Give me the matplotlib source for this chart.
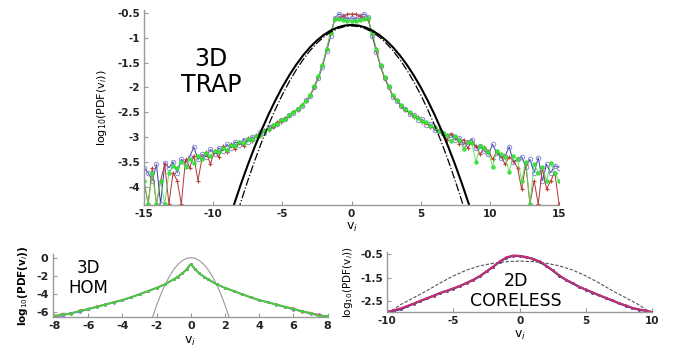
import numpy as np
import matplotlib
matplotlib.use("Agg")
import matplotlib.pyplot as plt

# ---- top panel: 3D TRAP (x grid -15..15, step 0.3) ----
trap_x = np.linspace(-15, 15, 101)

trap_red = [
    -3.88, -4.35, -3.62, -4.35, -3.88, -3.55, -4.35, -3.72, -3.88, -4.35,
    -3.45, -3.62, -3.38, -3.88, -3.42, -3.30, -3.55, -3.28, -3.40, -3.18,
    -3.30, -3.15, -3.25, -3.10, -3.18, -3.02, -3.08, -2.96, -2.97, -2.86,
    -2.85, -2.79, -2.70, -2.69, -2.61, -2.58, -2.49, -2.45, -2.35, -2.28,
    -2.16, -1.99, -1.79, -1.55, -1.23, -0.90, -0.63, -0.60, -0.57, -0.52,
    -0.52,
    -0.52, -0.56, -0.61, -0.64, -0.92, -1.27, -1.57, -1.82, -1.99, -2.18,
    -2.26, -2.37, -2.46, -2.51, -2.59, -2.60, -2.70, -2.71, -2.80, -2.82,
    -2.86, -2.95, -3.05, -2.93, -3.00, -3.14, -3.05, -3.22, -3.10, -3.18,
    -3.35, -3.20, -3.28, -3.45, -3.30, -3.38, -3.55, -3.40, -3.48, -3.62,
    -4.05, -3.55, -4.35, -3.88, -4.35, -3.62, -4.05, -3.88, -3.72, -4.35,
]
trap_blue = [
    -3.62, -3.72, -3.88, -3.55, -4.35, -3.52, -3.62, -3.50, -3.72, -3.45,
    -3.52, -3.40, -3.20, -3.45, -3.35, -3.40, -3.25, -3.35, -3.22, -3.28,
    -3.15, -3.22, -3.10, -3.16, -3.05, -3.10, -3.00, -3.01, -2.90, -2.91,
    -2.80, -2.78, -2.73, -2.66, -2.64, -2.55, -2.52, -2.43, -2.38, -2.26,
    -2.18, -2.00, -1.82, -1.58, -1.27, -0.96, -0.60, -0.52, -0.57, -0.62,
    -0.60,
    -0.62, -0.56, -0.52, -0.58, -0.97, -1.28, -1.57, -1.82, -1.99, -2.19,
    -2.27, -2.38, -2.43, -2.53, -2.55, -2.65, -2.64, -2.75, -2.74, -2.86,
    -2.88, -2.92, -2.98, -2.95, -3.06, -3.02, -3.15, -3.10, -3.05, -3.22,
    -3.18, -3.28, -3.35, -3.15, -3.32, -3.42, -3.38, -3.20, -3.50, -3.45,
    -3.40, -3.60, -3.45, -3.72, -3.42, -3.88, -3.55, -3.72, -3.58, -3.62,
]
trap_green = [
    -3.88, -4.35, -3.72, -4.35, -3.88, -4.35, -3.72, -3.58, -3.62, -3.50,
    -3.60, -3.45, -3.52, -3.38, -3.45, -3.32, -3.38, -3.28, -3.30, -3.22,
    -3.26, -3.16, -3.18, -3.10, -3.12, -3.04, -3.05, -2.97, -2.95, -2.87,
    -2.84, -2.76, -2.73, -2.66, -2.63, -2.56, -2.50, -2.44, -2.36, -2.27,
    -2.16, -1.97, -1.78, -1.54, -1.22, -0.90, -0.62, -0.62, -0.64, -0.66,
    -0.66,
    -0.66, -0.64, -0.62, -0.61, -0.90, -1.22, -1.55, -1.79, -1.97, -2.16,
    -2.26, -2.35, -2.44, -2.49, -2.57, -2.61, -2.68, -2.70, -2.78, -2.80,
    -2.88, -2.92, -2.96, -3.08, -2.98, -3.05, -3.25, -3.10, -3.12, -3.50,
    -3.18, -3.22, -3.30, -3.60, -3.28, -3.35, -3.40, -3.70, -3.38, -3.45,
    -3.88, -3.50, -4.35, -3.55, -3.72, -3.60, -3.88, -3.52, -3.72, -3.88,
]

# gaussian references (log scale -> parabolas), x = -9..9 step 0.5
gauss_x = np.linspace(-9, 9, 37)
gauss_solid_half = [-0.74, -0.753, -0.790, -0.853, -0.941, -1.054, -1.192,
                    -1.355, -1.543, -1.757, -1.995, -2.259, -2.547, -2.861,
                    -3.200, -3.564, -3.953, -4.367, -4.806]
gauss_dash_half = [-0.76, -0.774, -0.816, -0.885, -0.982, -1.107, -1.260,
                   -1.440, -1.648, -1.884, -2.148, -2.439, -2.758, -3.105,
                   -3.480, -3.882, -4.312, -4.770, -5.256]
gauss_solid = gauss_solid_half[::-1] + gauss_solid_half[1:]
gauss_dash = gauss_dash_half[::-1] + gauss_dash_half[1:]

# ---- bottom-left: 3D HOM ----
hom_x = [-8, -7.5, -7, -6.5, -6, -5.5, -5, -4.5, -4, -3.5, -3, -2.5, -2, -1.5,
         -1, -0.75, -0.5, -0.25, 0, 0.25, 0.5, 0.75, 1,
         1.5, 2, 2.5, 3, 3.5, 4, 4.5, 5, 5.5, 6, 6.5, 7, 7.5, 8]
hom_red = [-6.6, -6.2, -6.25, -5.85, -5.75, -5.4, -5.22, -4.92, -4.68, -4.4,
           -4.05, -3.7, -3.34, -2.95, -2.4, -2.1, -1.74, -1.3, -0.7, -1.3,
           -1.75, -2.1, -2.4, -2.95, -3.36, -3.7, -4.06, -4.4, -4.7, -4.96,
           -5.18, -5.5, -5.62, -6.05, -6.1, -6.4, -6.5]
hom_blue = [-6.5, -6.45, -6.1, -6.05, -5.65, -5.5, -5.18, -4.98, -4.72, -4.42,
            -4.06, -3.72, -3.36, -2.96, -2.41, -2.1, -1.76, -1.31, -0.71, -1.31,
            -1.76, -2.11, -2.41, -2.96, -3.37, -3.72, -4.08, -4.42, -4.74, -4.92,
            -5.25, -5.42, -5.78, -5.9, -6.25, -6.3, -6.6]
hom_green = [-6.45, -6.3, -6.2, -5.9, -5.7, -5.45, -5.2, -4.95, -4.7, -4.4,
             -4.05, -3.7, -3.35, -2.95, -2.4, -2.1, -1.75, -1.3, -0.7, -1.3,
             -1.75, -2.1, -2.4, -2.95, -3.35, -3.7, -4.05, -4.4, -4.7, -4.95,
             -5.2, -5.45, -5.7, -5.95, -6.15, -6.5, -6.45]
hom_gauss_x = [-2.25, -2, -1.75, -1.5, -1.25, -1, -0.75, -0.5, -0.25, 0,
               0.25, 0.5, 0.75, 1, 1.25, 1.5, 1.75, 2, 2.25]
hom_gauss = [-6.68, -5.28, -4.04, -2.97, -2.06, -1.32, -0.74, -0.33, -0.08, 0,
             -0.08, -0.33, -0.74, -1.32, -2.06, -2.97, -4.04, -5.28, -6.68]

# ---- bottom-right: 2D CORELESS ----
core_x = np.linspace(-10, 10, 41)
core_red = [-2.95, -2.88, -2.80, -2.70, -2.60, -2.48, -2.37, -2.26, -2.15, -2.05,
            -1.95, -1.84, -1.72, -1.58, -1.42, -1.22, -1.02, -0.80, -0.63, -0.55,
            -0.56, -0.62, -0.70, -0.80, -0.98, -1.18, -1.40, -1.58, -1.72, -1.88,
            -2.00, -2.12, -2.24, -2.35, -2.46, -2.58, -2.68, -2.78, -2.85, -2.90,
            -2.96]
core_blue = [-2.96, -2.90, -2.84, -2.72, -2.61, -2.49, -2.38, -2.27, -2.15, -2.06,
             -1.96, -1.85, -1.72, -1.59, -1.43, -1.23, -1.03, -0.81, -0.64, -0.56,
             -0.57, -0.62, -0.69, -0.81, -0.99, -1.19, -1.41, -1.59, -1.74, -1.89,
             -2.01, -2.13, -2.25, -2.36, -2.47, -2.59, -2.69, -2.79, -2.86, -2.91,
             -2.97]
core_gauss_x = [-10, -9.5, -9, -8, -7, -6, -5, -4, -3, -2, -1, 0,
                1, 2, 3, 4, 5, 6, 7, 8, 9, 9.5, 10]
core_gauss = [-2.98, -2.85, -2.65, -2.35, -2.05, -1.72, -1.42, -1.17, -0.99,
              -0.88, -0.81, -0.79, -0.81, -0.88, -0.99, -1.17, -1.42, -1.72,
              -2.05, -2.35, -2.65, -2.85, -2.98]


def style_axes(ax, size):
    for side in ("top", "right"):
        ax.spines[side].set_visible(False)
    for side in ("left", "bottom"):
        ax.spines[side].set_color("#999999")
        ax.spines[side].set_linewidth(1.0)
    ax.tick_params(direction="in", length=3, width=0.8, color="#999999",
                   labelsize=size, pad=3)
    for lab in ax.get_xticklabels() + ax.get_yticklabels():
        lab.set_fontweight("bold")
        lab.set_color("#222222")


W, H = 681, 353
fig = plt.figure(figsize=(W / 100, H / 100), dpi=100)


def px_axes(left, top, right, bottom):
    return fig.add_axes([left / W, 1 - bottom / H, (right - left) / W, (bottom - top) / H])


# top panel
ax = px_axes(144, 10, 559, 205)
ax.plot(trap_x, trap_blue, "-", color="#3a3aa8", lw=0.7, marker="o", ms=3.2,
        mfc="none", mec="#8c8cd8", mew=0.7)
ax.plot(trap_x, trap_red, "-", color="#b03535", lw=0.7, marker="+", ms=3.5,
        mec="#c04040", mew=0.8)
ax.plot(trap_x, trap_green, "-", color="#55dd55", lw=0.7, marker="o", ms=2.2,
        mfc="#33ee33", mec="#33dd33", alpha=0.9)
ax.plot(gauss_x, gauss_solid, "-", color="black", lw=1.5)
ax.plot(gauss_x, gauss_dash, "-.", color="black", lw=0.9)
ax.set_xlim(-15, 15)
ax.set_ylim(-4.37, -0.44)
ax.set_xticks([-15, -10, -5, 0, 5, 10, 15])
ax.set_yticks([-4, -3.5, -3, -2.5, -2, -1.5, -1, -0.5])
ax.set_yticklabels(["-4", "-3.5", "-3", "-2.5", "-2", "-1.5", "-1", "-0.5"])
ax.set_xticklabels(["-15", "-10", "-5", "0", "5", "10", "15"])
style_axes(ax, 7.5)
ax.set_ylabel("log$_{10}$(PDF(v$_i$))", fontsize=8, labelpad=6)
ax.set_xlabel("v$_i$", fontsize=9, labelpad=1)
fig.text(211 / W, 1 - 72 / H, "3D\nTRAP", fontsize=17, ha="center", va="center",
         linespacing=1.15)

# bottom-left panel
ax2 = px_axes(52.7, 254, 328, 316.7)
ax2.plot(hom_gauss_x, hom_gauss, "-", color="#999999", lw=0.8)
ax2.plot(hom_x, hom_blue, "-", color="#7a7aee", lw=1.2, marker=".", ms=2)
ax2.plot(hom_x, hom_red, "-", color="#ee6060", lw=1.2, marker=".", ms=2)
ax2.plot(hom_x, hom_green, "-", color="#44cc44", lw=1.3, marker=".", ms=2)
ax2.set_xlim(-8.08, 8.02)
ax2.set_ylim(-6.55, 0.4)
ax2.set_xticks([-8, -6, -4, -2, 0, 2, 4, 6, 8])
ax2.set_xticklabels(["-8", "-6", "-4", "-2", "0", "2", "4", "6", "8"])
ax2.set_yticks([-6, -4, -2, 0])
ax2.set_yticklabels(["-6", "-4", "-2", "0"])
style_axes(ax2, 8)
ax2.set_ylabel("log$_{10}$(PDF(v$_i$))", fontsize=7.5, fontweight="bold", labelpad=4)
ax2.set_xlabel("v$_i$", fontsize=9, labelpad=3)
fig.text(88 / W, 1 - 278 / H, "3D\nHOM", fontsize=12, ha="center", va="center",
         linespacing=1.1)

# bottom-right panel
ax3 = px_axes(387.3, 252, 652, 311.7)
ax3.plot(core_gauss_x, core_gauss, linestyle=(0, (3, 1.5)), color="#555555", lw=0.8)
ax3.plot(core_x, core_blue, "-", color="#303090", lw=1.6, marker=".", ms=2)
ax3.plot(core_x, core_red, "-", color="#d0306a", lw=1.2, marker=".", ms=1.5)
ax3.set_xlim(-10, 10)
ax3.set_ylim(-2.95, -0.4)
ax3.set_xticks([-10, -5, 0, 5, 10])
ax3.set_xticklabels(["-10", "-5", "0", "5", "10"])
ax3.set_yticks([-2.5, -1.5, -0.5])
ax3.set_yticklabels(["-2.5", "-1.5", "-0.5"])
style_axes(ax3, 7.5)
ax3.set_ylabel("log$_{10}$(PDF(v$_i$))", fontsize=7.5, labelpad=4)
ax3.set_xlabel("v$_i$", fontsize=9, labelpad=2)
fig.text(516 / W, 1 - 291 / H, "2D\nCORELESS", fontsize=12.5, ha="center",
         va="center", linespacing=1.2)

fig.savefig("out.png", dpi=100)
